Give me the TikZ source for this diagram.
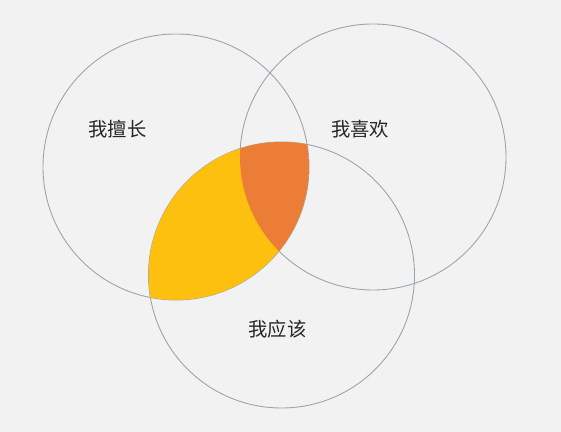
\documentclass[tikz,border=0pt]{standalone}
\usepackage{fontspec}
\newfontfamily\cjk{Noto Sans CJK SC}
\definecolor{paper}{HTML}{F2F2F3}
\definecolor{rim}{HTML}{9AA3AE}
\definecolor{gold}{HTML}{FDC00F}
\definecolor{tangerine}{HTML}{EC7D36}
\definecolor{ink}{HTML}{262626}

\begin{document}
\begin{tikzpicture}[font=\cjk\fontsize{11pt}{13pt}\selectfont]
	% Page: light gray background, fixed size
	\path [fill=paper] (0,0) rectangle (11.22,8.64);
	\useasboundingbox (0,0) rectangle (11.22,8.64);

	% Centres of the three circles
	\coordinate (good)   at (3.52,5.30);
	\coordinate (like)   at (7.46,5.50);
	\coordinate (should) at (5.63,3.14);

	% The circles themselves, thin gray outline
	\begin{scope}[rim,line width=0.5pt]
		\draw (good)   circle (2.66);
		\draw (like)   circle (2.66);
		\draw (should) circle (2.66);
	\end{scope}

	% Overlaps: good & should in yellow, all three in orange
	\begin{scope}
		\clip (good) circle (2.66);
		\clip (should) circle (2.66);
		\path [fill=gold] (good) circle (2.66);
		\clip (like) circle (2.66);
		\path [fill=tangerine] (good) circle (2.66);
	\end{scope}

	% Labels
	\node [ink] (goodtext)   at (2.35,6.05) {我擅长};
	\node [ink] (liketext)   at (7.20,6.05) {我喜欢};
	\node [ink] (shouldtext) at (5.55,2.06) {我应该};
\end{tikzpicture}
\end{document}
